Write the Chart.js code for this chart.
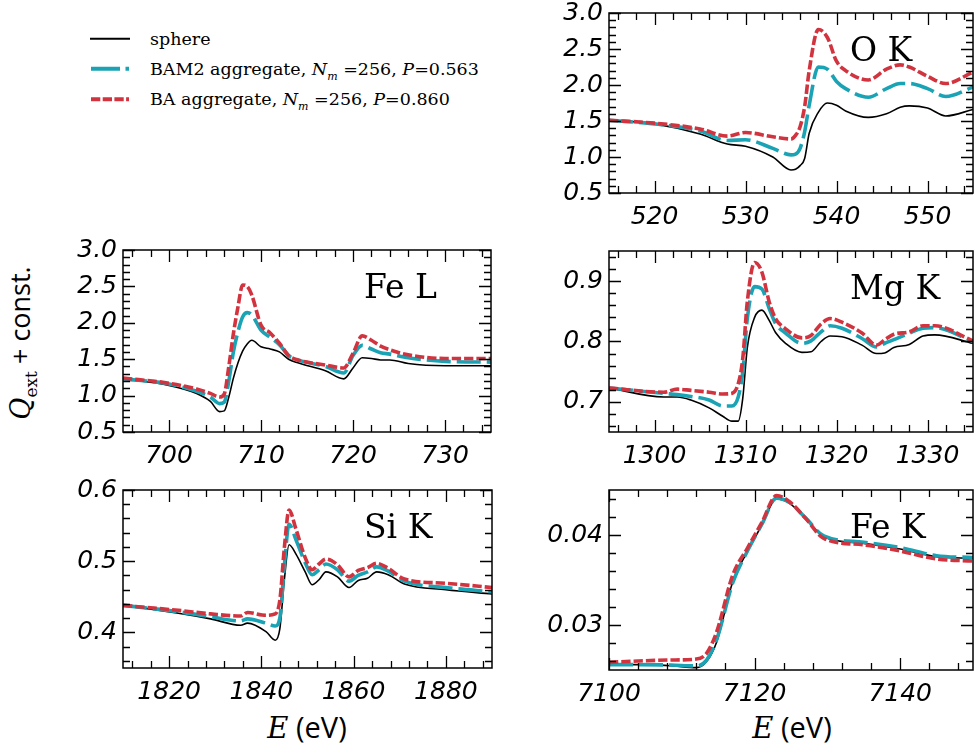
<!DOCTYPE html>
<html>
<head>
<meta charset="utf-8">
<script src="https://cdn.jsdelivr.net/npm/chart.js@4.4.0/dist/chart.umd.min.js"></script>
<style>
  body { margin: 0; width: 975px; height: 753px; overflow: hidden; background: #fff; position: relative; }
  canvas.panel { position: absolute; }
  .leg { position: absolute; left: 150px; font: 17.5px "DejaVu Serif"; line-height: 24px; white-space: nowrap; color: #000; }
  .leg i { font-family: "DejaVu Serif"; }
  .leg sub { font-size: 11px; }
  #ylabel { position: absolute; left: 21px; top: 343px; transform: translate(-50%, -50%) rotate(-90deg);
            font: 27px "Open Sans"; white-space: nowrap; color: #000; }
  #ylabel i, .xlabel i { font-family: "DejaVu Serif"; }
  #ylabel sub { font-family: "DejaVu Serif"; font-size: 17px; }
  .xlabel { position: absolute; top: 710px; width: 200px; margin-left: -100px; text-align: center;
            font: 29px "Open Sans"; line-height: 34px; color: #000; }
</style>
</head>
<body>

<svg width="60" height="90" style="position:absolute;left:80px;top:25px">
  <line x1="10" y1="13.7" x2="50" y2="13.7" stroke="#000" stroke-width="2"/>
  <line x1="11" y1="43.7" x2="49" y2="43.7" stroke="#1aa3b4" stroke-width="4" stroke-dasharray="29 5.5"/>
  <line x1="11" y1="74.3" x2="49" y2="74.3" stroke="#d1333f" stroke-width="4" stroke-dasharray="9.3 2.4"/>
</svg>
<div class="leg" style="top:27px">sphere</div>
<div class="leg" style="top:57px">BAM2 aggregate, <i>N</i><sub><i>m</i></sub> =256, <i>P</i>=0.563</div>
<div class="leg" style="top:87px">BA aggregate, <i>N</i><sub><i>m</i></sub> =256, <i>P</i>=0.860</div>

<div id="ylabel"><i>Q</i><sub>ext</sub> + const.</div>
<div class="xlabel" style="left:307px"><i>E</i> (eV)</div>
<div class="xlabel" style="left:792px"><i>E</i> (eV)</div>

<canvas id="ok" class="panel"></canvas>
<canvas id="fel" class="panel"></canvas>
<canvas id="mgk" class="panel"></canvas>
<canvas id="sik" class="panel"></canvas>
<canvas id="fek" class="panel"></canvas>

<script>
// ---- O K ----
var okEnergy = [515, 520, 525, 528, 530, 533, 535, 535.5, 536, 536.5, 537, 538, 539, 540, 541, 543.5, 545.5, 547, 548, 550, 552, 555];
var okSphere = [1.51, 1.46, 1.32, 1.18, 1.15, 1.00, 0.82, 0.83, 0.88, 0.98, 1.33, 1.62, 1.75, 1.72, 1.64, 1.55, 1.60, 1.69, 1.71, 1.68, 1.57, 1.66];
var okBam2   = [1.51, 1.46, 1.36, 1.23, 1.24, 1.12, 1.03, 1.04, 1.12, 1.35, 1.72, 2.25, 2.22, 2.05, 1.95, 1.83, 1.95, 2.02, 2.02, 1.95, 1.84, 1.97];
var okBa     = [1.51, 1.47, 1.39, 1.29, 1.34, 1.28, 1.25, 1.30, 1.42, 1.70, 2.20, 2.77, 2.66, 2.33, 2.20, 2.07, 2.22, 2.28, 2.25, 2.12, 2.02, 2.18];
var okXTicks = [520, 530, 540, 550];
var okYTicks = [0.5, 1.0, 1.5, 2.0, 2.5, 3.0];

// ---- Fe L ----
var felEnergy = [695, 700, 703, 704.5, 705.5, 706, 706.5, 707, 707.5, 708, 708.5, 709, 710, 711, 712, 713, 714, 717, 719, 720, 721, 722, 723, 724, 726, 730, 735];
var felSphere = [1.23, 1.14, 1.03, 0.92, 0.78, 0.79, 0.98, 1.24, 1.45, 1.61, 1.71, 1.76, 1.67, 1.64, 1.60, 1.50, 1.45, 1.34, 1.23, 1.38, 1.52, 1.51, 1.49, 1.49, 1.44, 1.41, 1.41];
var felBam2   = [1.23, 1.16, 1.06, 0.98, 0.89, 0.91, 1.20, 1.60, 1.88, 2.08, 2.14, 2.11, 1.90, 1.80, 1.70, 1.55, 1.49, 1.40, 1.31, 1.55, 1.69, 1.64, 1.59, 1.57, 1.52, 1.47, 1.46];
var felBa     = [1.24, 1.17, 1.09, 1.03, 0.98, 1.02, 1.40, 1.85, 2.22, 2.52, 2.50, 2.38, 1.97, 1.86, 1.72, 1.55, 1.49, 1.42, 1.38, 1.58, 1.82, 1.76, 1.68, 1.63, 1.56, 1.51, 1.51];
var felXTicks = [700, 710, 720, 730];
var felYTicks = [0.5, 1.0, 1.5, 2.0, 2.5, 3.0];

// ---- Mg K ----
var mgEnergy = [1295, 1301, 1302.5, 1304, 1306, 1307.5, 1308.5, 1309.2, 1309.7, 1310.2, 1311, 1311.8, 1312.6, 1313.3, 1314.4, 1316.2, 1317.2, 1318.3, 1319.3, 1320.6, 1322.8, 1324.4, 1325.3, 1326.3, 1328, 1329.5, 1330.8, 1335];
var mgSphere = [0.723, 0.708, 0.708, 0.703, 0.690, 0.676, 0.668, 0.668, 0.706, 0.790, 0.840, 0.852, 0.835, 0.815, 0.797, 0.782, 0.783, 0.800, 0.809, 0.808, 0.794, 0.780, 0.781, 0.790, 0.795, 0.809, 0.811, 0.797];
var mgBam2   = [0.723, 0.714, 0.712, 0.709, 0.703, 0.693, 0.693, 0.708, 0.750, 0.838, 0.891, 0.887, 0.855, 0.830, 0.814, 0.797, 0.801, 0.816, 0.826, 0.822, 0.805, 0.791, 0.797, 0.803, 0.814, 0.822, 0.823, 0.800];
var mgBa     = [0.723, 0.716, 0.721, 0.719, 0.716, 0.713, 0.714, 0.730, 0.772, 0.866, 0.931, 0.915, 0.866, 0.838, 0.821, 0.806, 0.810, 0.829, 0.838, 0.832, 0.814, 0.794, 0.803, 0.812, 0.816, 0.826, 0.826, 0.801];
var mgXTicks = [1300, 1310, 1320, 1330];
var mgYTicks = [0.7, 0.8, 0.9];

// ---- Si K ----
var siEnergy = [1810, 1822, 1829, 1835.5, 1837, 1841, 1843, 1844, 1845, 1846, 1847.5, 1849.5, 1851, 1852.5, 1854, 1856.5, 1859, 1861, 1863, 1865, 1867.5, 1871, 1880, 1890];
var siSphere = [0.438, 0.427, 0.419, 0.410, 0.413, 0.401, 0.389, 0.405, 0.475, 0.523, 0.510, 0.485, 0.467, 0.474, 0.485, 0.478, 0.463, 0.473, 0.476, 0.485, 0.481, 0.468, 0.460, 0.454];
var siBam2   = [0.438, 0.429, 0.422, 0.416, 0.419, 0.413, 0.409, 0.420, 0.495, 0.552, 0.530, 0.498, 0.481, 0.488, 0.496, 0.488, 0.472, 0.480, 0.485, 0.492, 0.486, 0.472, 0.463, 0.457];
var siBa     = [0.438, 0.431, 0.426, 0.423, 0.428, 0.424, 0.426, 0.445, 0.520, 0.572, 0.545, 0.505, 0.488, 0.496, 0.503, 0.495, 0.478, 0.487, 0.491, 0.497, 0.490, 0.475, 0.469, 0.463];
var siXTicks = [1820, 1840, 1860, 1880];
var siYTicks = [0.4, 0.5, 0.6];

// ---- Fe K ----
var fekEnergy = [7100, 7104, 7108.5, 7112, 7113.4, 7114.8, 7117, 7119, 7121, 7123, 7124.8, 7127, 7129.5, 7135, 7140, 7145, 7150];
var fekSphere = [0.02563, 0.0256, 0.02548, 0.02526, 0.02593, 0.02815, 0.03481, 0.03815, 0.0411, 0.0440, 0.04352, 0.04185, 0.03981, 0.03907, 0.03844, 0.03759, 0.03741];
var fekBam2   = [0.0256, 0.0256, 0.02555, 0.02545, 0.0261, 0.0284, 0.0347, 0.0382, 0.0412, 0.0441, 0.0436, 0.0419, 0.0399, 0.0392, 0.0386, 0.0377, 0.0375];
var fekBa     = [0.02585, 0.0260, 0.02611, 0.02622, 0.02685, 0.02926, 0.03556, 0.03852, 0.0414, 0.04437, 0.0437, 0.04185, 0.03963, 0.0389, 0.03822, 0.03733, 0.03711];
var fekXTicks = [7100, 7120, 7140];
var fekYTicks = [0.03, 0.04];

var TEAL = '#1aa3b4';
var RED = '#d1333f';
var ML = 75, MT = 16, MR = 2, MB = 45; // room around each plot box for tick labels

// frame on all four sides, inward major + minor ticks, panel title
var frameTicks = {
  id: 'frameTicks',
  afterDatasetsDraw: function(chart, args, o) {
    var ctx = chart.ctx, a = chart.chartArea, x = chart.scales.x, y = chart.scales.y;
    ctx.save();
    ctx.strokeStyle = '#000';
    ctx.lineWidth = 1.3;
    ctx.beginPath();
    function isMajor(list, v) { return list.some(function(t) { return Math.abs(t - v) < 1e-9; }); }
    var k, v, p, len;
    for (k = Math.ceil(x.min / o.xMinor - 1e-9); k * o.xMinor <= x.max + 1e-9; k++) {
      v = k * o.xMinor;
      p = Math.round(x.getPixelForValue(v)) + 0.5;
      len = isMajor(o.xMajor, v) ? 12 : 7;
      ctx.moveTo(p, a.bottom); ctx.lineTo(p, a.bottom - len);
      ctx.moveTo(p, a.top); ctx.lineTo(p, a.top + len);
    }
    for (k = Math.ceil(y.min / o.yMinor - 1e-9); k * o.yMinor <= y.max + 1e-9; k++) {
      v = k * o.yMinor;
      p = Math.round(y.getPixelForValue(v)) + 0.5;
      len = isMajor(o.yMajor, v) ? 12 : 7;
      ctx.moveTo(a.left, p); ctx.lineTo(a.left + len, p);
      ctx.moveTo(a.right, p); ctx.lineTo(a.right - len, p);
    }
    ctx.stroke();
    ctx.lineWidth = 1.5;
    ctx.strokeRect(a.left, a.top, a.right - a.left, a.bottom - a.top);
    ctx.fillStyle = '#000';
    ctx.font = '33px "DejaVu Serif"';
    ctx.textBaseline = 'alphabetic';
    ctx.fillText(o.title, a.left + 241, a.top + 48);
    ctx.restore();
  }
};

function makePanel(id, box, energy, sphere, bam2, ba, xMin, xMax, yMin, yMax, xTicks, yTicks, xMinor, yMinor, dec, title) {
  var canvas = document.getElementById(id);
  canvas.width = box.r - box.l + ML + MR;
  canvas.height = box.b - box.t + MT + MB;
  canvas.style.left = (box.l - ML) + 'px';
  canvas.style.top = (box.t - MT) + 'px';

  function pts(vals) { return energy.map(function(e, i) { return { x: e, y: vals[i] }; }); }
  var tickFont = { family: 'DejaVu Sans', size: 25, style: 'italic' };

  new Chart(canvas, {
    type: 'line',
    data: {
      datasets: [
        { label: 'BA aggregate', data: pts(ba), borderColor: RED, borderWidth: 3.6, borderDash: [9.3, 3], order: 0 },
        { label: 'BAM2 aggregate', data: pts(bam2), borderColor: TEAL, borderWidth: 3.6, borderDash: [24, 6], order: 1 },
        { label: 'sphere', data: pts(sphere), borderColor: '#000', borderWidth: 1.6, order: 2 }
      ]
    },
    options: {
      responsive: false,
      animation: false,
      devicePixelRatio: 1,
      layout: { padding: { left: 0, top: MT, right: MR, bottom: 0 } },
      elements: { point: { radius: 0 }, line: { cubicInterpolationMode: 'monotone', fill: false } },
      plugins: {
        legend: { display: false },
        tooltip: { enabled: false },
        frameTicks: { xMinor: xMinor, yMinor: yMinor, xMajor: xTicks, yMajor: yTicks, title: title }
      },
      scales: {
        x: {
          type: 'linear', min: xMin, max: xMax,
          grid: { display: false, drawTicks: false },
          border: { display: false },
          ticks: { font: tickFont, color: '#000', padding: 9, autoSkip: false, maxRotation: 0,
                   callback: function(v) { return String(v); } },
          afterBuildTicks: function(s) { s.ticks = xTicks.map(function(v) { return { value: v }; }); },
          afterFit: function(s) { s.height = MB; s.paddingLeft = 0; s.paddingRight = 0; }
        },
        y: {
          type: 'linear', min: yMin, max: yMax,
          grid: { display: false, drawTicks: false },
          border: { display: false },
          ticks: { font: tickFont, color: '#000', padding: 6, autoSkip: false,
                   callback: function(v) { return v.toFixed(dec); } },
          afterBuildTicks: function(s) { s.ticks = yTicks.map(function(v) { return { value: v }; }); },
          afterFit: function(s) { s.width = ML; s.paddingTop = 0; s.paddingBottom = 0; }
        }
      }
    },
    plugins: [frameTicks]
  });
}

makePanel('ok',  { l: 609, t: 13,  r: 973, b: 193 }, okEnergy, okSphere, okBam2, okBa, 515, 555, 0.5, 3.0, okXTicks, okYTicks, 2, 0.1, 1, 'O K');
makePanel('fel', { l: 123, t: 250, r: 491, b: 432 }, felEnergy, felSphere, felBam2, felBa, 695, 735, 0.5, 3.0, felXTicks, felYTicks, 2, 0.1, 1, 'Fe L');
makePanel('mgk', { l: 609, t: 251, r: 973, b: 432 }, mgEnergy, mgSphere, mgBam2, mgBa, 1295, 1335, 0.65, 0.95, mgXTicks, mgYTicks, 2, 0.02, 1, 'Mg K');
makePanel('sik', { l: 123, t: 490, r: 492, b: 668 }, siEnergy, siSphere, siBam2, siBa, 1810, 1890, 0.35, 0.6, siXTicks, siYTicks, 4, 0.02, 1, 'Si K');
makePanel('fek', { l: 609, t: 490, r: 973, b: 670 }, fekEnergy, fekSphere, fekBam2, fekBa, 7100, 7150, 0.025, 0.045, fekXTicks, fekYTicks, 4, 0.002, 2, 'Fe K');
</script>
</body>
</html>
